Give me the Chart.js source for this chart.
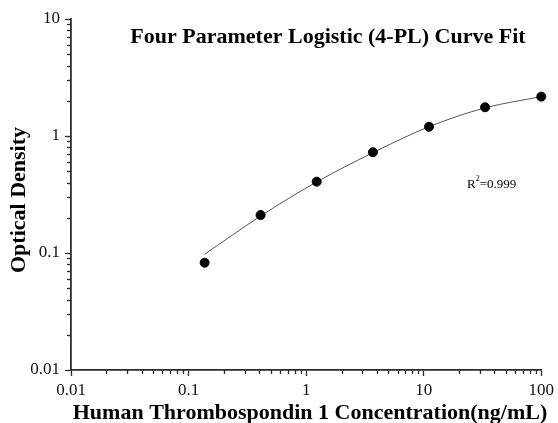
<!DOCTYPE html>
<html>
<head>
<meta charset="utf-8">
<script src="https://cdn.jsdelivr.net/npm/chart.js@4/dist/chart.umd.min.js"></script>
<style>
html,body{margin:0;padding:0;background:#fff;}
#wrap{width:558px;height:423px;}
</style>
</head>
<body>
<div id="wrap"><canvas id="c" width="558" height="423"></canvas></div>
<script>
// Data
const concentrations = [0.137, 0.41, 1.23, 3.7, 11.1, 33.3, 100];
const opticalDensity = [0.0826, 0.211, 0.407, 0.726, 1.2, 1.76, 2.17];
const fitX = [0.137, 0.41, 1.23, 3.7, 11.1, 33.3, 100];
const fitY = [0.0975, 0.207, 0.405, 0.72, 1.2, 1.74, 2.17];
const xTicks = [0.01, 0.1, 1, 10, 100];
const yTicks = [0.01, 0.1, 1, 10];
const titleText = 'Four Parameter Logistic (4-PL) Curve Fit';
const xTitle = 'Human Thrombospondin 1 Concentration(ng/mL)';
const yTitle = 'Optical Density';
const r2Text = '=0.999';

const SERIF = '"Liberation Serif", "Times New Roman", serif';
const AXIS = '#2b2b2b';

const minorTicks = {
  id: 'minorTicks',
  afterDraw(chart) {
    const ctx = chart.ctx;
    const xs = chart.scales.x, ys = chart.scales.y;
    const ca = chart.chartArea;
    ctx.save();
    ctx.strokeStyle = AXIS;
    ctx.lineWidth = 1.3;
    for (let i = 0; i < xTicks.length - 1; i++) {
      for (let k = 2; k <= 9; k++) {
        const x = Math.round(xs.getPixelForValue(xTicks[i] * k)) + 0.5;
        ctx.beginPath(); ctx.moveTo(x, ca.bottom); ctx.lineTo(x, ca.bottom + 4); ctx.stroke();
      }
    }
    for (let i = 0; i < yTicks.length - 1; i++) {
      for (let k = 2; k <= 9; k++) {
        const y = Math.round(ys.getPixelForValue(yTicks[i] * k)) + 0.5;
        ctx.beginPath(); ctx.moveTo(ca.left, y); ctx.lineTo(ca.left - 4, y); ctx.stroke();
      }
    }
    ctx.restore();
  }
};

const texts = {
  id: 'texts',
  afterDraw(chart) {
    const ctx = chart.ctx;
    ctx.save();
    ctx.fillStyle = '#000';
    ctx.textAlign = 'center';
    ctx.textBaseline = 'alphabetic';
    ctx.font = 'bold 22px ' + SERIF;
    ctx.fillText(titleText, 328, 43);
    ctx.fillText(xTitle, 310, 419);
    ctx.save();
    ctx.translate(25, 200);
    ctx.rotate(-Math.PI / 2);
    ctx.fillText(yTitle, 0, 0);
    ctx.restore();
    // R^2 annotation
    ctx.textAlign = 'left';
    ctx.font = '13px ' + SERIF;
    let x = 467, y = 188;
    ctx.fillText('R', x, y);
    x += ctx.measureText('R').width;
    ctx.font = '8px ' + SERIF;
    ctx.fillText('2', x, y - 7);
    x += ctx.measureText('2').width;
    ctx.font = '13px ' + SERIF;
    ctx.fillText(r2Text, x, y);
    ctx.restore();
  }
};

const fmt = v => String(Number(v.toPrecision(3)));

new Chart(document.getElementById('c'), {
  type: 'scatter',
  data: {
    datasets: [
      {
        label: 'fit',
        type: 'line',
        data: fitX.map((x, i) => ({x: x, y: fitY[i]})),
        borderColor: '#555',
        borderWidth: 1,
        pointRadius: 0,
        fill: false,
        cubicInterpolationMode: 'monotone',
        clip: false,
        order: 2
      },
      {
        label: 'points',
        data: concentrations.map((x, i) => ({x: x, y: opticalDensity[i]})),
        backgroundColor: '#000',
        borderColor: '#000',
        pointRadius: 4.5,
        pointHoverRadius: 4.5,
        clip: false,
        order: 1
      }
    ]
  },
  options: {
    responsive: false,
    animation: false,
    events: [],
    layout: { padding: { top: 19, right: 14, left: 0, bottom: 0 } },
    plugins: { legend: { display: false }, tooltip: { enabled: false }, title: { display: false } },
    scales: {
      x: {
        type: 'logarithmic',
        min: 0.01, max: 100,
        afterFit(s) { s.height = 53; },
        afterBuildTicks(s) { s.ticks = xTicks.map(v => ({value: v, major: true})); },
        grid: { display: true, drawOnChartArea: false, drawTicks: true, tickLength: 6, tickColor: AXIS, tickWidth: 1.3 },
        border: { display: true, color: AXIS, width: 1.8 },
        ticks: {
          autoSkip: false, maxRotation: 0, padding: 4, color: '#111',
          font: { family: SERIF, size: 17 },
          callback: v => fmt(v)
        }
      },
      y: {
        type: 'logarithmic',
        min: 0.01, max: 10,
        afterFit(s) { s.width = 71; },
        afterBuildTicks(s) { s.ticks = yTicks.map(v => ({value: v, major: true})); },
        grid: { display: true, drawOnChartArea: false, drawTicks: true, tickLength: 6, tickColor: AXIS, tickWidth: 1.3 },
        border: { display: true, color: AXIS, width: 1.8 },
        ticks: {
          autoSkip: false, padding: 5, color: '#111',
          font: { family: SERIF, size: 17 },
          callback: v => fmt(v)
        }
      }
    }
  },
  plugins: [minorTicks, texts]
});
</script>
</body>
</html>
